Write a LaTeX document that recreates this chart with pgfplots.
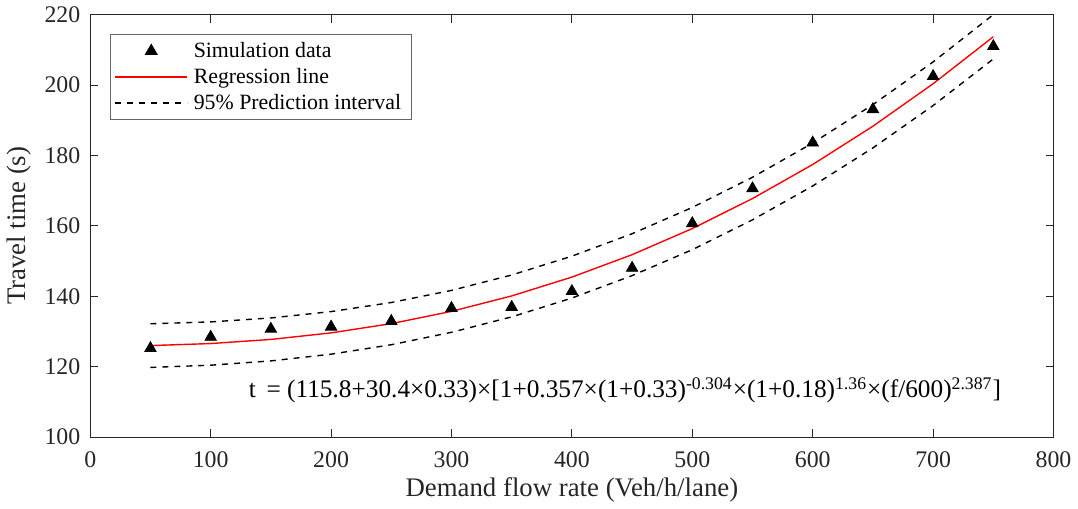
\documentclass[border=0pt]{standalone}
\usepackage{fontspec}
\setmainfont{Liberation Serif}
\usepackage{pgfplots}
\pgfplotsset{compat=1.18}
\definecolor{axgray}{HTML}{262626}
\definecolor{mred}{HTML}{FF0000}

\begin{document}
\begin{tikzpicture}
\begin{axis}[
    width=483.5bp, height=212bp,
    scale only axis,
    xmin=0, xmax=800, ymin=100, ymax=220,
    xtick={0,100,...,800},
    ytick={100,120,...,220},
    /pgf/number format/assume math mode=true,
    tick label style={font=\fontsize{12}{14}\selectfont, text=axgray},
    xticklabel style={yshift=-4bp},
    yticklabel style={xshift=-1.5bp},
    label style={font=\fontsize{13.5}{15}\selectfont, text=axgray},
    xlabel={Demand flow rate (Veh/h/lane)},
    ylabel={Travel time (s)},
    xlabel style={yshift=2bp},
    axis line style={axgray, line width=0.5bp},
    major tick style={axgray, line width=0.5bp},
    major tick length=4bp,
    tick align=inside,
    legend style={at={(0.0207,0.953)}, anchor=north west,
        draw=axgray!70, line width=0.5bp,
        font=\fontsize{11}{12.5}\selectfont,
        inner xsep=2bp, inner ysep=1.5bp, row sep=0bp,
        nodes={inner xsep=3bp}},
    legend cell align=left,
    legend image code/.code={\draw[mark repeat=2,mark phase=2,#1]
        plot coordinates {(0bp,0bp) (18bp,0bp) (36bp,0bp)};},
]
\addplot[only marks, mark=triangle*, mark size=3.3bp, draw=black, fill=black] coordinates {
    (50,125.2) (100,128.4) (150,130.7) (200,131.3) (250,132.9)
    (300,136.6) (350,136.9) (400,141.4) (450,148.0) (500,160.7)
    (550,170.6) (600,183.6) (650,193.1) (700,202.5) (750,211.0)
};
\addlegendentry{Simulation data}
\addplot[draw=mred, line width=0.7bp, no marks] coordinates {
    (50,125.97) (100,126.55) (150,127.72) (200,129.58) (250,132.21)
    (300,135.70) (350,140.08) (400,145.43) (450,151.80) (500,159.22)
    (550,167.75) (600,177.42) (650,188.29) (700,200.37) (750,213.71)
};
\addlegendentry{Regression line}
\addplot[draw=black, line width=0.7bp, dash pattern=on 3bp off 3bp, no marks] coordinates {
    (50,132.17) (100,132.70) (150,133.82) (200,135.63) (250,138.21)
    (300,141.65) (350,146.03) (400,151.38) (450,157.75) (500,165.22)
    (550,173.80) (600,183.52) (650,194.44) (700,206.57) (750,220.01)
};
\addlegendentry{95\% Prediction interval}
\addplot[draw=black, line width=0.7bp, dash pattern=on 3bp off 3bp, no marks, forget plot] coordinates {
    (50,119.77) (100,120.40) (150,121.62) (200,123.53) (250,126.21)
    (300,129.75) (350,134.13) (400,139.48) (450,145.85) (500,153.22)
    (550,161.70) (600,171.32) (650,182.14) (700,194.17) (750,207.41)
};
\node[anchor=base west, inner sep=0pt, font=\fontsize{12.75}{14}\selectfont]
    at (axis cs:131.5,111.1)
    {t\, = (115.8+30.4×0.33)×[1+0.357×(1+0.33)\textsuperscript{-0.304}×(1+0.18)\textsuperscript{1.36}×(f/600)\textsuperscript{2.387}]};
\end{axis}
\end{tikzpicture}
\end{document}
